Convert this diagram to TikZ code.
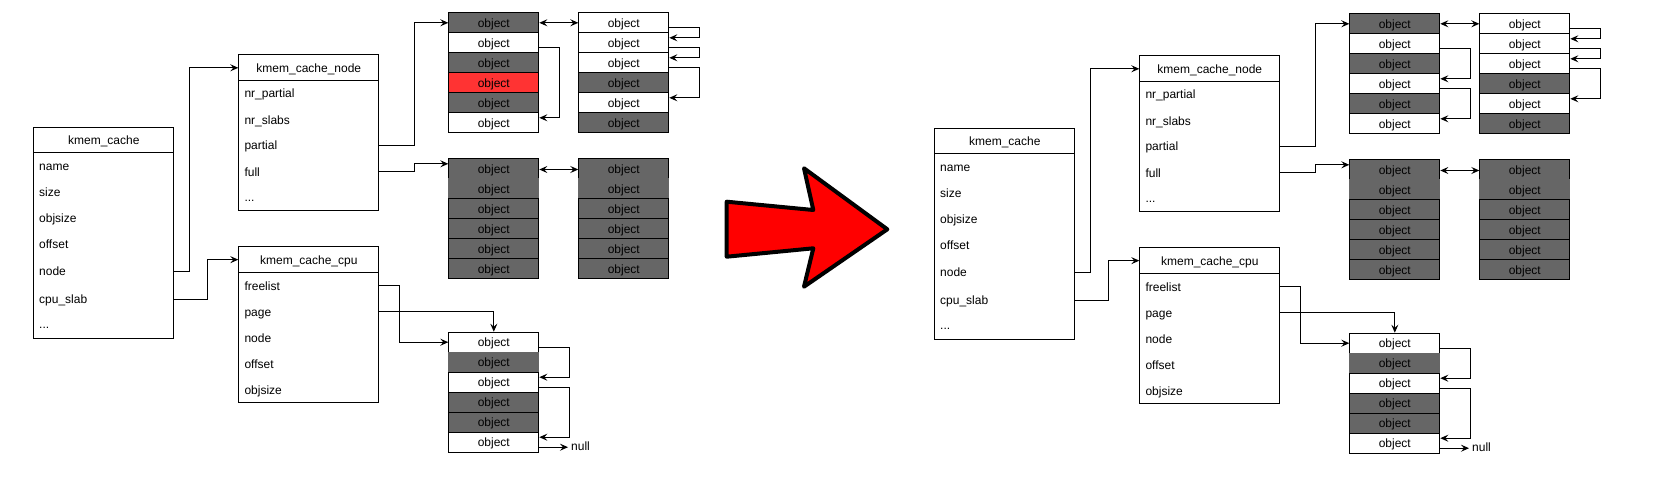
\documentclass[tikz,border=0pt]{standalone}
\usepackage{fontspec}
\setmainfont{Liberation Sans}
\usetikzlibrary{arrows.meta}
\definecolor{dk}{HTML}{666666}
\definecolor{rd}{HTML}{FF3333}
\definecolor{bigred}{HTML}{FF0000}
\tikzset{
  ln/.style={line width=1pt},
  ctip/.tip={Stealth[length=8pt,width=7pt,inset=3pt]},
  arr/.style={ln,-ctip},
  darr/.style={ln,ctip-ctip},
  txt/.style={font=\fontsize{12}{14}\selectfont, text height=10.5pt, text depth=1.5pt},
  obj/.style={txt, ln, minimum width=90pt, minimum height=20pt, inner sep=0pt, anchor=north west},
  hd/.style={txt, draw, ln, inner sep=0pt, anchor=north west, minimum width=140pt},
  bd/.style={draw, ln, inner sep=0pt, anchor=north west, minimum width=140pt},
  fld/.style={txt, anchor=west, inner sep=0pt},
}
\newcommand\slab[4]{\foreach \f/\d [count=\i] in {#4} {\node[obj, fill=\f, draw=\d] (#1\i) at (#2,{#3+20*(\i-1)}) {object};}}
\newcommand\half[3]{%
\begin{scope}[shift={#2}]
  % kmem_cache
  \node[hd, minimum height=25.6pt] (#1kch) at (33.3,126.7) {kmem\_cache};
  \node[bd, minimum height=186pt] (#1kc) at (33.3,152.3) {};
  \node[fld] (#1kcname) at (39,166) {name};
  \node[fld] (#1kcsize) at (39,191.7) {size};
  \node[fld] (#1kcobjsize) at (39,217.7) {objsize};
  \node[fld] (#1kcoffset) at (39,243.7) {offset};
  \node[fld] (#1kcnode) at (39,271) {node};
  \node[fld] (#1kccpu) at (39,299.3) {cpu\_slab};
  \node[fld] (#1kcdots) at (39,323.5) {...};
  % kmem_cache_node
  \node[hd, minimum height=26pt] (#1knh) at (238.3,54.3) {kmem\_cache\_node};
  \node[bd, minimum height=129.7pt] (#1kn) at (238.3,80.3) {};
  \node[fld] (#1knnrpartial) at (244.3,93.3) {nr\_partial};
  \node[fld] (#1knnrslabs) at (244.3,120) {nr\_slabs};
  \node[fld] (#1knpartial) at (244.3,145.4) {partial};
  \node[fld] (#1knfull) at (244.3,171.5) {full};
  \node[fld] (#1kndots) at (244.3,196.5) {...};
  % kmem_cache_cpu
  \node[hd, minimum height=26.3pt] (#1kcch) at (238.3,246) {kmem\_cache\_cpu};
  \node[bd, minimum height=130pt] (#1kcc) at (238.3,272.3) {};
  \node[fld] (#1kccfreelist) at (244.3,285.7) {freelist};
  \node[fld] (#1kccpage) at (244.3,311.7) {page};
  \node[fld] (#1kccnode) at (244.3,337.7) {node};
  \node[fld] (#1kccoffset) at (244.3,363.7) {offset};
  \node[fld] (#1kccobjsize) at (244.3,389.7) {objsize};
  % slabs
  \slab{#1A}{448.3}{12.3}{#3}
  \slab{#1B}{578.3}{12.3}{white/black,white/black,white/black,dk/black,white/black,dk/black}
  \slab{#1C}{448.3}{158.3}{dk/black,dk/dk,dk/black,dk/black,dk/black,dk/black}
  \slab{#1D}{578.3}{158.3}{dk/black,dk/dk,dk/black,dk/black,dk/black,dk/black}
  \slab{#1E}{448.3}{331.7}{white/black,dk/dk,white/black,dk/black,dk/black,white/black}
  \node[txt, anchor=west, inner sep=0pt] (#1null) at (571,446) {null};
  % connectors
  \draw[arr] (#1kc.east |- #1kcnode.west) -- ++(15,0) |- (#1knh.west);
  \draw[arr] (#1kc.east |- #1kccpu.west) -- ++(33.4,0) |- (#1kcch.west);
  \draw[arr] (#1kn.east |- #1knpartial.west) -- ++(35,0) |- (#1A1.west);
  \draw[arr] (#1kn.east |- #1knfull.west) -- ++(35,0) |- ([yshift=5pt]#1C1.west);
  \draw[darr] (#1A1.east) -- (#1B1.west);
  \draw[darr] ([yshift=-0.7pt]#1C1.east) -- ([yshift=-0.7pt]#1D1.west);
  \draw[arr] ([yshift=-5pt]#1B1.east) -- ++(30,0) |- ([yshift=5pt]#1B2.east);
  \draw[arr] ([yshift=-5pt]#1B2.east) -- ++(30,0) |- ([yshift=5pt]#1B3.east);
  \draw[arr] ([yshift=-5pt]#1B3.east) -- ++(30,0) |- ([yshift=5pt]#1B5.east);
  \draw[arr] (#1kcc.east |- #1kccfreelist.west) -- ++(20,0) |- (#1E1.west);
  \draw[arr] (#1kcc.east |- #1kccpage.west) -| (#1E1.north);
  \draw[arr] ([yshift=-5pt]#1E1.east) -- ++(30,0) |- ([yshift=5pt]#1E3.east);
  \draw[arr] ([yshift=-5pt]#1E3.east) -- ++(30,0) |- ([yshift=5pt]#1E6.east);
  \draw[arr, shorten >=3pt] ([yshift=-5pt]#1E6.east) -- ([yshift=-5pt]#1E6.east -| #1null.west);
\end{scope}}
\begin{document}
\begin{tikzpicture}[x=1pt,y=-1pt]
  \useasboundingbox (0,0) rectangle (1653,487);
  \fill[white] (0,0) rectangle (1653,487);
  \half{L}{(0,0)}{dk/black,white/black,dk/black,rd/black,dk/black,white/black}
  \half{R}{(901,1)}{dk/black,white/black,dk/black,white/black,dk/black,white/black}
  % left-only free list in partial slab
  \draw[arr] ([yshift=-5pt]LA2.east) -- ++(20,0) |- ([yshift=5pt]LA6.east);
  % right-only free list in partial slab
  \draw[arr] ([yshift=-5pt]RA2.east) -- ++(30,0) |- ([yshift=5pt]RA4.east);
  \draw[arr] ([yshift=-5pt]RA4.east) -- ++(30,0) |- ([yshift=5pt]RA6.east);
  % big arrow
  \draw[line width=4pt, line join=round, fill=bigred]
    (726.7,201.7) -- (813.3,210) -- (804,168.3) -- (887.3,229.3)
    -- (804,286.7) -- (813.3,248.3) -- (726.7,256.7) -- cycle;
\end{tikzpicture}
\end{document}
